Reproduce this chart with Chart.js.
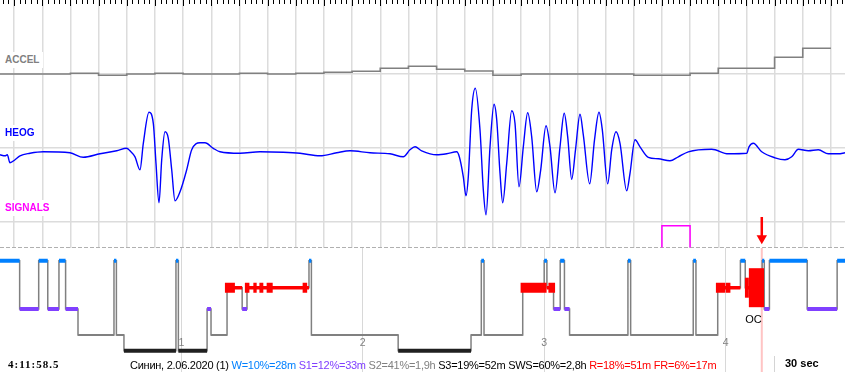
<!DOCTYPE html>
<html>
<head>
<meta charset="utf-8">
<script src="https://cdn.jsdelivr.net/npm/chart.js@4.4.1/dist/chart.umd.min.js"></script>
<style>
  html, body { margin: 0; padding: 0; background: #fff; }
  #wrap { position: relative; width: 845px; height: 372px; overflow: hidden; background: #fff; }
  canvas { position: absolute; left: 0; }
  #top { top: 0; }
  #hyp { top: 248px; }
  .lbl { position: absolute; left: 0; padding: 3px 4px 3px 5px; background: #fff;
         font: bold 10px "Liberation Sans", Arial, sans-serif; line-height: 10px; white-space: nowrap; }
  .txt { position: absolute; white-space: nowrap; line-height: 11px; }
  #clock { left: 8px; top: 357.5px; font: bold 11px "Liberation Serif", "Times New Roman", serif; letter-spacing: 1px; }
  #stats { left: 130px; top: 359px; font: 11px "Liberation Sans", Arial, sans-serif; letter-spacing: -0.26px; color: #000; }
  #scale { left: 785px; top: 357.4px; font: bold 11px "Liberation Sans", Arial, sans-serif; }
  #sep { position: absolute; left: 774px; top: 356px; width: 1px; height: 16px; background: #d4d4d4; }
</style>
</head>
<body>
<div id="wrap">
  <canvas id="top" width="845" height="248" style="width:845px;height:248px"></canvas>
  <canvas id="hyp" width="845" height="124" style="width:845px;height:124px"></canvas>
  <div class="lbl" style="top:51.8px;color:#808080">ACCEL</div>
  <div class="lbl" style="top:125.2px;color:#0000ff">HEOG</div>
  <div class="lbl" style="top:199.5px;color:#ff00ff">SIGNALS</div>
  <div class="txt" id="clock">4:11:58.5</div>
  <div class="txt" id="stats">Синин, 2.06.2020 (1) <span style="color:#0080ff">W=10%=28m</span> <span style="color:#8040ff">S1=12%=33m</span> <span style="color:#808080">S2=41%=1,9h</span> S3=19%=52m SWS=60%=2,8h <span style="color:#ff0000">R=18%=51m FR=6%=17m</span></div>
  <div id="sep"></div>
  <div class="txt" id="scale">30 sec</div>
</div>
<script>
// ---- top window: seconds after 4:11:00, 30 s shown ----
const WIN_START = 43.5;
const WIN_END = 73.5;
const SEC_GRID = [44, 45, 46, 47, 48, 49, 50, 51, 52, 53, 54, 55, 56, 57, 58, 59,
                  60, 61, 62, 63, 64, 65, 66, 67, 68, 69, 70, 71, 72, 73];

// ACCEL: step level starting at each time (arbitrary units)
const ACCEL_START = [43.5, 46, 47, 48, 49, 50, 52, 53, 54, 55, 56, 57, 58, 59, 60, 61, 62, 66, 68, 69, 71, 72];
const ACCEL_VALUE = [-0.7, 0, -2, -0.7, 0, -0.7, 0, -0.7, 0, 1, 2, 5, 7, 4, 2.3, -2, -0.7, -2, 0, 5, 16, 25];
const ACCEL_END = 73;

// HEOG (µV)
const HEOG_T = [43.5, 43.678, 43.759, 43.855, 44.033, 44.21, 44.565, 45.037, 45.985, 46.457, 47.05, 47.643,
  47.998, 48.115, 48.293, 48.47, 48.588, 48.79, 48.943, 49.038, 49.145, 49.241, 49.358, 49.475, 49.596,
  49.713, 49.891, 50.128, 50.306, 50.601, 50.778, 51.073, 51.311, 52.021, 52.731, 53.558, 54.151, 54.861,
  55.454, 55.926, 56.636, 57.346, 57.819, 58.056, 58.234, 58.472, 59.004, 59.359, 59.714, 59.807, 59.949,
  60.044, 60.126, 60.247, 60.375, 60.541, 60.659, 60.755, 60.897, 61.039, 61.135, 61.252, 61.348, 61.49,
  61.667, 61.784, 61.926, 62.079, 62.235, 62.377, 62.555, 62.697, 62.885, 63.027, 63.204, 63.382, 63.531,
  63.655, 63.797, 63.932, 64.092, 64.209, 64.436, 64.607, 64.766, 64.884, 65.075, 65.217, 65.37, 65.512,
  65.75, 65.867, 66.044, 66.222, 66.517, 66.872, 67.287, 67.582, 67.937, 68.768, 69.357, 70.011, 70.092,
  70.245, 70.543, 71.015, 71.37, 71.608, 71.843, 72.198, 72.553, 72.908, 73.263, 73.5];
const HEOG_UV = [-15, -17, -15, -31, -25, -17, -12, -9, -11, -20, -13, -7,
  -2, -7, -19, -45, 8, 70, 48, -32, -111, -25, 31, 18, -45,
  -107, -89, -45, -5, 9, 9, -2, -9, -12, -9, -10, -12, -17,
  -11, -7, -11, -13, -19, -5, 1, -7, -15, -13, -9, -19, -59,
  -97, -59, 75, 118, 35, -85, -135, 1, 86, 55, -52, -111, -32,
  73, 48, -79, 1, 69, 21, -89, -45, 43, 1, -91, 1, 68,
  21, -64, -5, 66, 25, -73, 15, 70, 35, -73, -5, 31, 8,
  -87, -52, 15, 1, -20, -23, -27, -19, -9, -4, -13, -12, 1,
  8, -9, -21, -25, -19, -4, -7, -5, -13, -13, -11];

// SIGNALS events (s)
const SIG_ON = [67];
const SIG_OFF = [68];

// ---- hypnogram: minutes from recording start ----
const HYP_END = 279.5;
const HYP_START = [0, 6.5, 12.8, 15.8, 19.5, 21.7, 25.8, 37.7, 38.5, 41.0, 58.2, 59.0, 68.5, 69.8,
  75.1, 80.1, 81.7, 102.2, 103.0, 131.7, 155.8, 159.2, 160.1, 172.9, 180.0, 180.9, 183.1, 185.3,
  186.7, 188.4, 207.7, 208.6, 229.3, 230.2, 237.4, 244.9, 246.5, 252.1, 252.8, 254.5, 267.0, 276.9];
const HYP_STAGE = ['W', 'S1', 'W', 'S1', 'W', 'S1', 'S2', 'W', 'S2', 'S3', 'W', 'S3', 'S1', 'S2',
  'R', 'S1', 'R', 'W', 'S2', 'S3', 'S2', 'W', 'S2', 'R', 'W', 'R', 'S1', 'W',
  'S1', 'S2', 'W', 'S2', 'W', 'S2', 'R', 'W', 'R', 'W', 'S1', 'W', 'S1', 'W'];
// REM eye-movement density marks
const REM_DENSE_START = [74.4, 81.0, 83.8, 85.8, 88.2, 100.1, 172.2, 181.4, 236.8, 240.0, 246.4, 247.7];
const REM_DENSE_END = [77.7, 82.5, 84.9, 87.1, 90.2, 101.6, 180.8, 183.6, 239.8, 241.6, 247.7, 252.7];
const REM_DENSE_LEVEL = [1, 1, 1, 1, 1, 1, 1, 1, 1, 1, 2, 3];
const HOUR_MARKS = [60, 120, 180, 240];
const HOUR_LABELS = ['1', '2', '3', '4'];
const CURSOR_MIN = 251.975; // 4:11:58.5
const CURSOR_LABEL = 'OC';

// ---- layout / style ----
const TOP_H = 248;
const HYP_H = 124;
const ROW_LINES = [73.3, 147.3, 221.7];
const STAGE_DEPTH = { W: 12.8, R: 39.7, S1: 61, S2: 87, S3: 102.8 };
const STAGE_STYLE = {
  W: { color: '#0080ff', width: 4 },
  R: { color: '#ff0000', width: 3.5 },
  S1: { color: '#8040ff', width: 4 },
  S2: { color: '#808080', width: 2 },
  S3: { color: '#202020', width: 4 },
};
const DENSE_WIDTH = { 1: 10, 2: 20, 3: 39 };
const GRID = '#dcdcdc';

function bandAxis(zeroPx, pxPerUnit, height) {
  return { type: 'linear', display: false, min: -(height - zeroPx) / pxPerUnit, max: zeroPx / pxPerUnit };
}

function gridOnly(extra) {
  return Object.assign({
    type: 'linear',
    ticks: { display: false },
    border: { display: false },
  }, extra);
}

const baseOptions = {
  responsive: false,
  animation: false,
  devicePixelRatio: 1,
  events: [],
  layout: { padding: 0, autoPadding: false },
  plugins: { legend: { display: false }, tooltip: { enabled: false } },
  elements: { point: { radius: 0 } },
};

/** 0.2 s tick marks along the top edge */
const secondTicks = {
  id: 'secondTicks',
  afterDraw(chart) {
    const { ctx } = chart;
    const x = chart.scales.x;
    ctx.save();
    ctx.strokeStyle = '#000';
    ctx.lineWidth = 1;
    for (let i = Math.ceil(WIN_START * 5); i <= WIN_END * 5; i++) {
      const px = Math.round(x.getPixelForValue(i / 5)) + 0.5;
      ctx.beginPath();
      ctx.moveTo(px, 0);
      ctx.lineTo(px, i % 5 === 0 ? 6 : 4);
      ctx.stroke();
    }
    ctx.restore();
  },
};

// ---- top chart ----
const accelData = ACCEL_START.map((t, i) => ({ x: t, y: ACCEL_VALUE[i] }));
accelData.push({ x: ACCEL_END, y: ACCEL_VALUE[ACCEL_VALUE.length - 1] });

const heogData = HEOG_T.map((t, i) => ({ x: t, y: HEOG_UV[i] }));

const sigData = [];
SIG_ON.forEach((on, i) => {
  sigData.push({ x: on, y: 0 }, { x: on, y: 1 }, { x: SIG_OFF[i], y: 1 }, { x: SIG_OFF[i], y: 0 }, { x: SIG_OFF[i], y: null });
});

new Chart(document.getElementById('top'), {
  type: 'line',
  data: {
    datasets: [
      {
        label: 'arrow', xAxisID: 'xh', yAxisID: 'ySig',
        data: [{ x: CURSOR_MIN, y: 1.4 }, { x: CURSOR_MIN, y: 0.43 }],
        borderColor: '#ff0000', borderWidth: 2.5,
        pointStyle: 'triangle', pointRotation: 180,
        pointRadius: (c) => (c.dataIndex === 1 ? 6 : 0),
        pointBackgroundColor: '#ff0000', pointBorderWidth: 0,
      },
      {
        label: 'HEOG', xAxisID: 'x', yAxisID: 'yHeog', data: heogData,
        borderColor: '#0000ff', borderWidth: 1.4, cubicInterpolationMode: 'monotone',
      },
      {
        label: 'ACCEL', xAxisID: 'x', yAxisID: 'yAccel', data: accelData,
        borderColor: '#808080', borderWidth: 1.6, stepped: true,
      },
      {
        label: 'SIGNALS', xAxisID: 'x', yAxisID: 'ySig', data: sigData,
        borderColor: '#ff00ff', borderWidth: 1.5,
      },
      {
        label: 'base', xAxisID: 'x', yAxisID: 'ySig',
        data: [{ x: WIN_START, y: 0 }, { x: WIN_END, y: 0 }],
        borderColor: '#b0b0b0', borderWidth: 1, borderDash: [4, 2],
      },
    ],
  },
  options: {
    ...baseOptions,
    scales: {
      x: gridOnly({
        min: WIN_START, max: WIN_END,
        grid: { color: GRID, lineWidth: 1.5, drawTicks: false },
        afterBuildTicks: (axis) => { axis.ticks = SEC_GRID.map((v) => ({ value: v })); },
      }),
      xh: { type: 'linear', display: false, min: 0, max: HYP_END },
      yRows: gridOnly({
        position: 'left', min: 0, max: TOP_H, reverse: true,
        grid: { color: GRID, lineWidth: 1.5, drawTicks: false },
        afterBuildTicks: (axis) => { axis.ticks = ROW_LINES.map((v) => ({ value: v })); },
      }),
      yAccel: bandAxis(73.3, 1, TOP_H),
      yHeog: bandAxis(147.3, 0.5, TOP_H),
      ySig: bandAxis(247.5, 21.7, TOP_H),
    },
  },
  plugins: [secondTicks],
});

// ---- hypnogram chart ----
function segEnd(i) {
  return i + 1 < HYP_START.length ? HYP_START[i + 1] : HYP_END;
}

function stageBars(stage) {
  const pts = [];
  HYP_START.forEach((t, i) => {
    if (HYP_STAGE[i] !== stage) return;
    const d = STAGE_DEPTH[stage];
    pts.push({ x: t, y: d }, { x: segEnd(i), y: d }, { x: segEnd(i), y: null });
  });
  return pts;
}

function denseBars(level) {
  const pts = [];
  REM_DENSE_START.forEach((t, i) => {
    if (REM_DENSE_LEVEL[i] !== level) return;
    pts.push({ x: t, y: STAGE_DEPTH.R }, { x: REM_DENSE_END[i], y: STAGE_DEPTH.R }, { x: REM_DENSE_END[i], y: null });
  });
  return pts;
}

const stepData = HYP_START.map((t, i) => ({ x: t, y: STAGE_DEPTH[HYP_STAGE[i]] }));
stepData.push({ x: HYP_END, y: STAGE_DEPTH[HYP_STAGE[HYP_STAGE.length - 1]] });

const hypDatasets = [];
[1, 2, 3].forEach((lvl) => hypDatasets.push({
  label: 'REM ' + lvl, data: denseBars(lvl), borderColor: '#ff0000',
  borderWidth: DENSE_WIDTH[lvl], borderCapStyle: 'butt', order: 1,
}));
['W', 'S1', 'R', 'S3', 'S2'].forEach((s) => hypDatasets.push({
  label: s, data: stageBars(s), borderColor: STAGE_STYLE[s].color,
  borderWidth: STAGE_STYLE[s].width, borderCapStyle: 'butt', order: s === 'S2' ? 4 : 3,
}));
hypDatasets.push({
  label: 'steps', data: stepData, stepped: true, borderColor: '#808080', borderWidth: 1.5, order: 5,
});
hypDatasets.push({
  label: 'cursor', data: [{ x: CURSOR_MIN, y: 0 }, { x: CURSOR_MIN, y: HYP_H }],
  borderColor: '#ffc4c4', borderWidth: 2, order: 9,
});
hypDatasets.forEach((d) => { d.xAxisID = 'xh'; d.yAxisID = 'yHyp'; });

const hypLabels = {
  id: 'hypLabels',
  afterDatasetsDraw(chart) {
    const { ctx } = chart;
    const { xh, yHyp } = chart.scales;
    ctx.save();
    ctx.textBaseline = 'middle';
    ctx.font = '10.5px "Liberation Sans", Arial, sans-serif';
    ctx.fillStyle = '#808080';
    ctx.textAlign = 'center';
    HOUR_MARKS.forEach((m, i) => ctx.fillText(HOUR_LABELS[i], xh.getPixelForValue(m), yHyp.getPixelForValue(95.5)));
    ctx.font = '11px "Liberation Sans", Arial, sans-serif';
    ctx.fillStyle = '#000';
    ctx.textAlign = 'right';
    ctx.fillText(CURSOR_LABEL, xh.getPixelForValue(CURSOR_MIN), yHyp.getPixelForValue(72));
    ctx.restore();
  },
};

new Chart(document.getElementById('hyp'), {
  type: 'line',
  data: { datasets: hypDatasets },
  options: {
    ...baseOptions,
    scales: {
      xh: gridOnly({
        min: 0, max: HYP_END,
        grid: { color: '#d8d8d8', lineWidth: 1, drawTicks: false },
        afterBuildTicks: (axis) => { axis.ticks = HOUR_MARKS.map((v) => ({ value: v })); },
      }),
      yHyp: { type: 'linear', display: false, min: 0, max: HYP_H, reverse: true },
    },
  },
  plugins: [hypLabels],
});
</script>
</body>
</html>
